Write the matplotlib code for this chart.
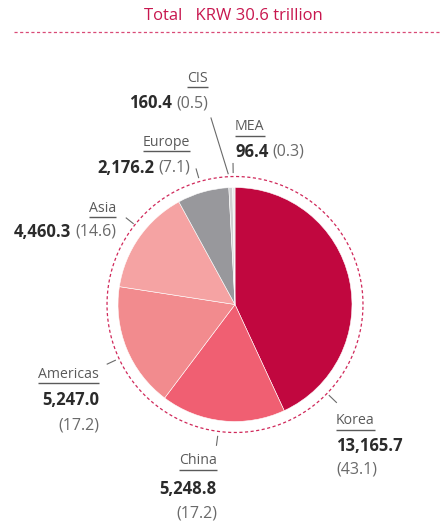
import matplotlib
matplotlib.use("Agg")
import matplotlib.pyplot as plt
import numpy as np

# Sales by region (KRW billion) and share (%)
regions = ["Korea", "China", "Americas", "Asia", "Europe", "CIS", "MEA"]
sales = [13165.7, 5248.8, 5247.0, 4460.3, 2176.2, 160.4, 96.4]
shares = [43.1, 17.2, 17.2, 14.6, 7.1, 0.5, 0.3]
value_labels = ["13,165.7", "5,248.8", "5,247.0", "4,460.3", "2,176.2", "160.4", "96.4"]
share_labels = ["(43.1)", "(17.2)", "(17.2)", "(14.6)", "(7.1)", "(0.5)", "(0.3)"]
colors = ["#C1073F", "#F05F72", "#F28B8E", "#F5A3A3", "#98989C", "#CFCFD1", "#E9E9EA"]
title = "Total   KRW 30.6 trillion"

W, H = 441, 522
plt.rcParams["font.family"] = ["Open Sans", "DejaVu Sans"]

fig = plt.figure(figsize=(W / 100, H / 100), dpi=100)
ax = fig.add_axes([0, 0, 1, 1])


def Y(y):
    return H - y


cx, cy, r = 235, 304.5, 117

ax.pie(sales, colors=colors, startangle=90, counterclock=False,
       center=(cx, Y(cy)), radius=r, frame=True,
       wedgeprops=dict(edgecolor="white", linewidth=0.4))
ax.set_xlim(0, W)
ax.set_ylim(0, H)
ax.set_aspect("equal")
ax.axis("off")

# dashed ring around the pie
t = np.linspace(0, 2 * np.pi, 400)
ax.plot(cx + 128 * np.cos(t), Y(cy) + 128 * np.sin(t), color="#D0285A",
        lw=0.9, ls=(0, (2.5, 2)))

# title and dashed rule
ax.text(233, Y(16), title, ha="center", va="center", fontsize=12,
        color="#C8174F")
ax.plot([14, W], [Y(32), Y(32)], color="#D94A77", lw=0.9, ls=(0, (2.5, 2)))

NAME_C, VAL_C, PCT_C = "#5A5A5A", "#2B2B2B", "#6A6A6A"
FS_NAME, FS_VAL, FS_PCT = 10.2, 12, 11.5

# label layout: anchor x, alignment, y of name / value / pct line, pct on same line?
layout = {
    "Korea":    (336, "left",  421, 446, 470, False),
    "China":    (217, "right", 461, 489, 514, False),
    "Americas": (99,  "right", 374, 400, 426, False),
    "Asia":     (116, "right", 208, 232, 232, True),
    "Europe":   (190, "right", 142, 168, 168, True),
    "CIS":      (208, "right", 78, 103, 103, True),
    "MEA":      (235, "left",  127, 152, 152, True),
}
# leader lines: angle clockwise from 12 o'clock, inner and outer radius
leaders = {
    "Korea": (134, 131, 141),
    "China": (187.5, 133, 142),
    "Americas": (245, 132, 141),
    "Asia": (308.5, 130, 139),
    "Europe": (344, 132, 141),
    "MEA": (359.2, 132, 141),
    "CIS": (357, 131, 0),
}

fig.canvas.draw()
renderer = fig.canvas.get_renderer()


def width_of(txt):
    return txt.get_window_extent(renderer).width


for i, name in enumerate(regions):
    x, ha, yn, yv, yp, same = layout[name]
    tn = ax.text(x, Y(yn), name, ha=ha, va="center", fontsize=FS_NAME, color=NAME_C)
    wn = width_of(tn)
    x0 = x - wn if ha == "right" else x
    ax.plot([x0, x0 + wn], [Y(yn) - 8.7, Y(yn) - 8.7], color=NAME_C, lw=1.0,
            solid_capstyle="butt")
    if same:
        if ha == "right":
            tp = ax.text(x, Y(yv), share_labels[i], ha="right", va="center",
                         fontsize=FS_PCT, color=PCT_C)
            wp = width_of(tp)
            ax.text(x - wp - 4, Y(yv), value_labels[i], ha="right", va="center",
                    fontsize=FS_VAL, color=VAL_C, fontweight="bold")
        else:
            tv = ax.text(x, Y(yv), value_labels[i], ha="left", va="center",
                         fontsize=FS_VAL, color=VAL_C, fontweight="bold")
            wv = width_of(tv)
            ax.text(x + wv + 4, Y(yv), share_labels[i], ha="left", va="center",
                    fontsize=FS_PCT, color=PCT_C)
    else:
        ax.text(x, Y(yv), value_labels[i], ha=ha, va="center",
                fontsize=FS_VAL, color=VAL_C, fontweight="bold")
        ax.text(x, Y(yp), share_labels[i], ha=ha, va="center",
                fontsize=FS_PCT, color=PCT_C)

for name, (ang, r1, r2) in leaders.items():
    a = np.deg2rad(ang)
    p1 = (cx + r1 * np.sin(a), Y(cy) + r1 * np.cos(a))
    if r2:
        p2 = (cx + r2 * np.sin(a), Y(cy) + r2 * np.cos(a))
    else:
        p2 = (211, Y(118))
    ax.plot([p1[0], p2[0]], [p1[1], p2[1]], color="#6A6A6A", lw=0.8)

fig.savefig("out.png", dpi=100)
